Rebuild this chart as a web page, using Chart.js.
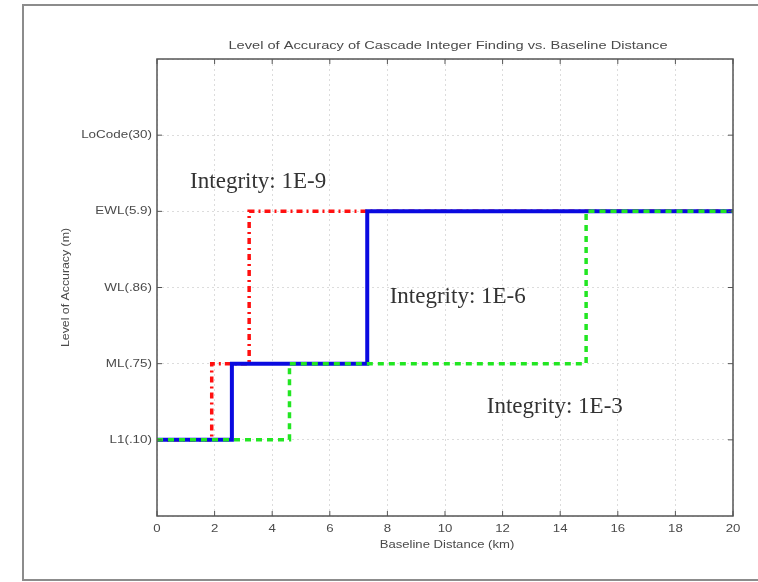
<!DOCTYPE html>
<html>
<head>
<meta charset="utf-8">
<script src="https://cdn.jsdelivr.net/npm/chart.js@4"></script>
<style>
  html, body { margin: 0; padding: 0; background: #fff; }
  #wrap { width: 758px; height: 582px; position: relative; }
</style>
</head>
<body>
<div id="wrap"><canvas id="chart" width="758" height="582"></canvas></div>
<script>
// data
const xTicks = [0, 2, 4, 6, 8, 10, 12, 14, 16, 18, 20];
const yLabels = ['', 'L1(.10)', 'ML(.75)', 'WL(.86)', 'EWL(5.9)', 'LoCode(30)', ''];

// step points (x = baseline km, y = accuracy level index)
const redX = [0, 1.9, 3.2, 20];
const redY = [1, 2, 4, 4];
const blueX = [0, 2.6, 7.3, 20];
const blueY = [1, 2, 4, 4];
const greenX = [0, 4.6, 14.9, 20];
const greenY = [1, 2, 4, 4];

const notes = [
  { text: 'Integrity: 1E-9', x: 1.15, y: 4.38 },
  { text: 'Integrity: 1E-6', x: 8.08, y: 2.87 },
  { text: 'Integrity: 1E-3', x: 11.45, y: 1.43 },
];

const pts = (xs, ys) => xs.map((x, i) => ({ x, y: ys[i] }));

const SANS = '"Liberation Sans", Arial, sans-serif';

// the reference text is drawn a bit wide, so stretch it horizontally
function wideText(ctx, text, x, y, align, sx) {
  ctx.save();
  ctx.translate(x, y);
  ctx.scale(sx, 1);
  ctx.textAlign = align;
  ctx.fillText(text, 0, 0);
  ctx.restore();
}

// frame, inward ticks, tick labels, titles, notes
const decor = {
  id: 'decor',
  afterDraw(chart) {
    const { ctx, chartArea: a, scales } = chart;
    const xs = scales.x, ys = scales.y;
    ctx.save();

    // outer figure frame
    ctx.strokeStyle = '#8c8c8c';
    ctx.lineWidth = 2;
    ctx.beginPath();
    ctx.moveTo(758, 5); ctx.lineTo(23, 5); ctx.lineTo(23, 580); ctx.lineTo(758, 580);
    ctx.stroke();

    // axes box
    ctx.strokeStyle = '#555';
    ctx.lineWidth = 1.5;
    ctx.strokeRect(a.left, a.top, a.right - a.left, a.bottom - a.top);

    // inward ticks
    ctx.lineWidth = 1;
    ctx.beginPath();
    xTicks.forEach((v) => {
      const px = xs.getPixelForValue(v);
      ctx.moveTo(px, a.bottom); ctx.lineTo(px, a.bottom - 5);
      ctx.moveTo(px, a.top); ctx.lineTo(px, a.top + 5);
    });
    for (let v = 1; v <= 5; v++) {
      const py = ys.getPixelForValue(v);
      ctx.moveTo(a.left, py); ctx.lineTo(a.left + 5, py);
      ctx.moveTo(a.right, py); ctx.lineTo(a.right - 5, py);
    }
    ctx.stroke();

    // tick labels
    ctx.fillStyle = '#4a4a4a';
    ctx.textBaseline = 'middle';
    ctx.font = '11px ' + SANS;
    xTicks.forEach((v) => {
      wideText(ctx, String(v), xs.getPixelForValue(v), a.bottom + 13, 'center', 1.2);
    });
    yLabels.forEach((t, v) => {
      if (t) wideText(ctx, t, a.left - 5, ys.getPixelForValue(v), 'right', 1.22);
    });

    // titles
    const cx = (a.left + a.right) / 2;
    wideText(ctx, 'Level of Accuracy of Cascade Integer Finding vs. Baseline Distance', cx + 3, 46, 'center', 1.33);
    wideText(ctx, 'Baseline Distance (km)', cx + 2, 545, 'center', 1.19);
    ctx.save();
    ctx.translate(66, (a.top + a.bottom) / 2);
    ctx.rotate(-Math.PI / 2);
    wideText(ctx, 'Level of Accuracy (m)', 0, 0, 'center', 1.12);
    ctx.restore();

    // integrity notes
    ctx.fillStyle = '#333';
    ctx.font = '23px "Liberation Serif", "Times New Roman", serif';
    notes.forEach((n) => {
      wideText(ctx, n.text, xs.getPixelForValue(n.x), ys.getPixelForValue(n.y), 'left', 1);
    });
    ctx.restore();
  },
};

new Chart(document.getElementById('chart'), {
  type: 'line',
  data: {
    datasets: [
      {
        label: 'Integrity: 1E-3',
        data: pts(greenX, greenY),
        borderColor: '#22e622',
        borderWidth: 3.5,
        borderDash: [6, 5],
        order: 0,
      },
      {
        label: 'Integrity: 1E-6',
        data: pts(blueX, blueY),
        borderColor: '#0a0ae0',
        borderWidth: 4,
        order: 1,
      },
      {
        label: 'Integrity: 1E-9',
        data: pts(redX, redY),
        borderColor: '#ff1010',
        borderWidth: 3.5,
        borderDash: [6, 4, 2, 4],
        order: 2,
      },
    ],
  },
  options: {
    responsive: false,
    animation: false,
    elements: {
      line: { stepped: true, tension: 0, fill: false },
      point: { radius: 0, hoverRadius: 0 },
    },
    layout: { padding: { left: 0, top: 59, right: 25, bottom: 0 } },
    plugins: { legend: { display: false }, tooltip: { enabled: false } },
    scales: {
      x: {
        type: 'linear',
        min: 0,
        max: 20,
        afterBuildTicks: (s) => { s.ticks = xTicks.map((v) => ({ value: v })); },
        afterFit: (s) => { s.height = 66; },
        grid: { color: '#dcdcdc', drawTicks: false },
        border: { display: false, dash: [2, 3] },
        ticks: { display: false },
      },
      y: {
        type: 'linear',
        min: 0,
        max: 6,
        afterFit: (s) => { s.width = 157; },
        grid: { color: '#dcdcdc', drawTicks: false },
        border: { display: false, dash: [2, 3] },
        ticks: { display: false, stepSize: 1 },
      },
    },
  },
  plugins: [decor],
});
</script>
</body>
</html>
